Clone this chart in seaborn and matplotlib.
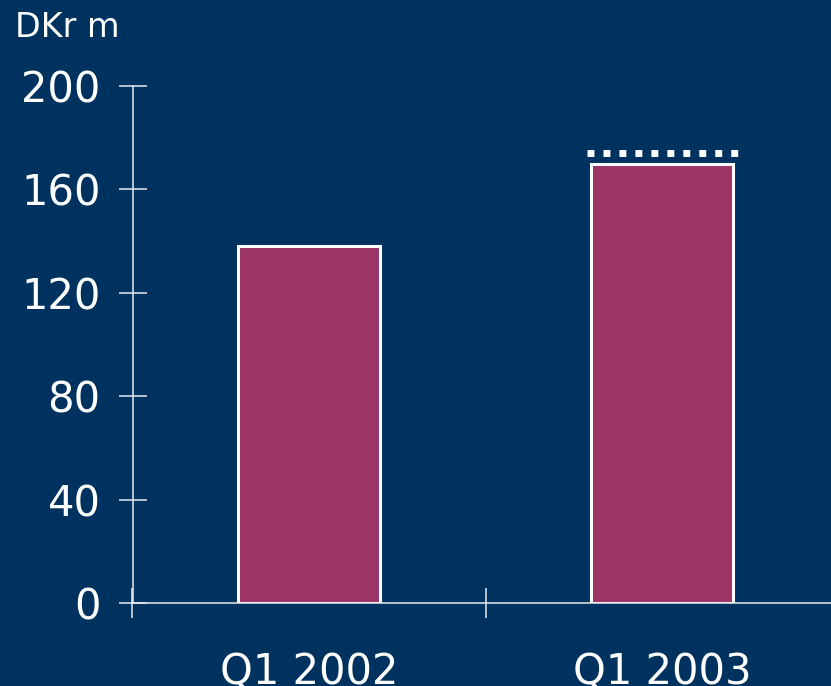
import matplotlib
matplotlib.use("Agg")
import matplotlib.pyplot as plt
import seaborn as sns
import pandas as pd

# Quarterly figures, DKr m
periods = ["Q1 2002", "Q1 2003"]
values = [138, 170]
reference_level = 174  # dotted marker above the Q1 2003 bar
y_ticks = [0, 40, 80, 120, 160, 200]
unit_label = "DKr m"

BG = "#00325F"
BAR = "#9C3565"
LINE = "#e8ebf0"

sns.set_theme(style="white")
plt.rcParams["font.family"] = ["DejaVu Sans"]

df = pd.DataFrame({"period": periods, "value": values})

fig = plt.figure(figsize=(8.31, 6.86), dpi=100, facecolor=BG)
W, H = 831, 686
x0, x1 = 132.5, 838.5
y0, y1 = 603, 86
ax = fig.add_axes([x0 / W, 1 - y0 / H, (x1 - x0) / W, (y0 - y1) / H])
ax.set_facecolor(BG)

sns.barplot(data=df, x="period", y="value", ax=ax, color=BAR, saturation=1,
            width=0.4, edgecolor="white", linewidth=2.2)

# dotted marker line over the second bar
ax.hlines(reference_level, 1 - 0.213, 1 + 0.218, colors="white", linewidth=5,
          linestyles=(0, (1, 1.3)), capstyle="butt")

ax.set_xlim(-0.5, 1.5)
ax.set_ylim(0, 200)
ax.set_yticks(y_ticks)
ax.set_yticklabels([str(t) for t in y_ticks])

ax.set_xticks([0, 1])
ax.set_xticklabels(periods)
ax.set_xticks([-0.5, 0.5], minor=True)

for s in ["top", "right"]:
    ax.spines[s].set_visible(False)
for s in ["left", "bottom"]:
    ax.spines[s].set_color(LINE)
    ax.spines[s].set_linewidth(1.1)

ax.tick_params(axis="y", direction="inout", length=20, width=1.1, color=LINE,
               labelsize=30, labelcolor="white", pad=13, left=True)
ax.tick_params(axis="x", which="major", length=0, labelsize=30,
               labelcolor="white", pad=35)
ax.tick_params(axis="x", which="minor", direction="inout", length=21,
               width=1.1, color=LINE, bottom=True)

ax.set_xlabel("")
ax.set_ylabel("")

fig.text(15 / W, 1 - 11 / H, unit_label, color="white", fontsize=24,
         ha="left", va="top")

fig.savefig("out.png", dpi=100, facecolor=BG)
